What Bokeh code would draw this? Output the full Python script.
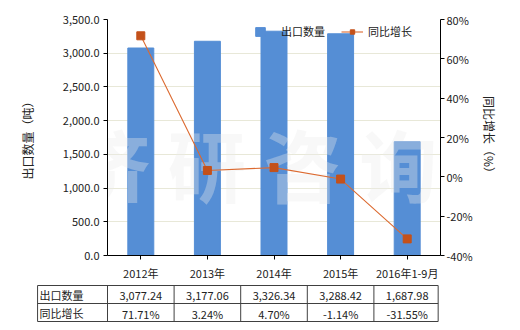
from bokeh.plotting import figure
from bokeh.models import (Range1d, LinearAxis, NumeralTickFormatter, PrintfTickFormatter,
                          Legend, LegendItem, ColumnDataSource, SingleIntervalTicker)
from bokeh.core.properties import value
from bokeh.embed import file_html
from bokeh.resources import INLINE

# ---- data ----
categories = ["2012年", "2013年", "2014年", "2015年", "2016年1-9月"]
export_qty = [3077.24, 3177.06, 3326.34, 3288.42, 1687.98]
yoy_growth = [71.71, 3.24, 4.70, -1.14, -31.55]
qty_labels = ["3,077.24", "3,177.06", "3,326.34", "3,288.42", "1,687.98"]
growth_labels = ["71.71%", "3.24%", "4.70%", "-1.14%", "-31.55%"]
row_names = ["出口数量", "同比增长"]
series_names = ["出口数量", "同比增长"]

FONT = "Noto Sans CJK SC"
W = 520
MAIN_H = 283
TABLE_H = 330 - MAIN_H
LEFT, RIGHT, TOP, BOTTOM = 107, 80, 19, 24

BAR_COLOR = "#558ed5"
LINE_COLOR = "#dc6a30"
MARK_COLOR = "#c4511a"
GRID_COLOR = "#e8e8d8"
TEXT_COLOR = "#222222"
TABLE_LINE = "#404040"

p = figure(width=W, height=MAIN_H, x_range=categories, y_range=Range1d(0, 3500),
           output_backend="svg", toolbar_location=None,
           min_border_left=LEFT, min_border_right=RIGHT,
           min_border_top=TOP, min_border_bottom=BOTTOM)
p.outline_line_color = None
p.background_fill_color = "white"
p.border_fill_color = "white"
p.extra_y_ranges = {"pct": Range1d(-40, 80)}

p.xgrid.grid_line_color = None
p.ygrid.grid_line_color = GRID_COLOR
p.ygrid.ticker = SingleIntervalTicker(interval=500)

# left axis
ya = p.yaxis[0]
ya.ticker = SingleIntervalTicker(interval=500)
ya.formatter = NumeralTickFormatter(format="0,0.0")
ya.axis_label = "出口数量（吨）"
ya.axis_label_text_font = FONT
ya.axis_label_text_font_style = "normal"
ya.axis_label_text_font_size = "12px"
ya.axis_label_text_color = TEXT_COLOR
ya.axis_label_standoff = 24
ya.major_label_text_font = FONT
ya.major_label_text_font_size = "11px"
ya.major_label_text_color = TEXT_COLOR
ya.major_label_standoff = 4
ya.minor_tick_line_color = None
ya.major_tick_out = 4
ya.major_tick_in = 0
ya.axis_line_color = "black"
ya.major_tick_line_color = "black"

# right axis
ra = LinearAxis(y_range_name="pct", ticker=SingleIntervalTicker(interval=20),
                formatter=PrintfTickFormatter(format="%d%%"))
ra.axis_label = "同比增长（%）"
ra.axis_label_text_font = FONT
ra.axis_label_text_font_style = "normal"
ra.axis_label_text_font_size = "12px"
ra.axis_label_text_color = TEXT_COLOR
ra.axis_label_standoff = 5
ra.major_label_text_font = FONT
ra.major_label_text_font_size = "11px"
ra.major_label_text_color = TEXT_COLOR
ra.major_label_standoff = 2
ra.minor_tick_line_color = None
ra.major_tick_out = 4
ra.major_tick_in = 0
ra.axis_line_color = "black"
p.add_layout(ra, "right")

# x axis
xa = p.xaxis[0]
xa.major_label_text_font = FONT
xa.major_label_text_font_size = "11px"
xa.major_label_text_color = TEXT_COLOR
xa.major_label_standoff = 5
xa.major_tick_out = 4
xa.major_tick_in = 0
xa.axis_line_color = "black"

src = ColumnDataSource(dict(cat=categories, qty=export_qty, g=yoy_growth))
bars = p.vbar(x="cat", top="qty", width=0.39, color=BAR_COLOR, source=src)

# watermark
p.text(x=[2], y=[1370], text=["济 研 咨 询"], text_font=value(FONT),
       text_font_size="78px", text_font_style="bold", text_color="#ececec",
       text_alpha=0.35, text_align="center", text_baseline="middle", x_offset=14)

ln = p.line(x="cat", y="g", y_range_name="pct", source=src, line_color=LINE_COLOR, line_width=1.1)
mk = p.scatter(x="cat", y="g", y_range_name="pct", source=src, marker="square",
               size=8, fill_color=MARK_COLOR, line_color=MARK_COLOR)

leg1 = Legend(items=[LegendItem(label=series_names[0], renderers=[bars])],
              location=(147, 216), orientation="horizontal",
              glyph_width=12, glyph_height=11, label_height=11, label_standoff=15,
              padding=0, margin=0, spacing=0, border_line_color=None,
              background_fill_alpha=0, label_text_font=FONT, label_text_font_size="11px",
              label_text_color=TEXT_COLOR)
leg2 = Legend(items=[LegendItem(label=series_names[1], renderers=[ln, mk])],
              location=(234, 216), orientation="horizontal",
              glyph_width=22, glyph_height=11, label_height=11, label_standoff=5,
              padding=0, margin=0, spacing=0, border_line_color=None,
              background_fill_alpha=0, label_text_font=FONT, label_text_font_size="11px",
              label_text_color=TEXT_COLOR)
p.add_layout(leg1, "center")
p.add_layout(leg2, "center")

# ---- data table: a separate root below the chart, x in category units ----
n = len(categories)
cw = (W - LEFT - RIGHT) / n          # px per category in the chart above
x0 = -0.5 - LEFT / cw
x1 = n - 0.5 + RIGHT / cw
label_w = 1.05                       # row-name column width, in category units
right_edge = n - 0.5 - 0.035         # table's right border, in category units
row_top, row_h = 2, 18               # pixels from the top of the table figure

t = figure(width=W, height=TABLE_H, x_range=Range1d(x0, x1), y_range=Range1d(TABLE_H, 0),
           x_axis_type=None, y_axis_type=None,
           output_backend="svg", toolbar_location=None,
           min_border=0, min_border_left=0, min_border_right=0, min_border_top=0, min_border_bottom=0)
t.grid.visible = False
t.outline_line_color = None
t.background_fill_color = "white"
t.border_fill_color = "white"

tl = -0.5 - label_w
rows_y = [row_top + i * row_h for i in range(len(row_names) + 1)]
row_mid = [rows_y[i] + row_h / 2 for i in range(len(row_names))]
t.segment(x0=[tl] * len(rows_y), x1=[right_edge] * len(rows_y), y0=rows_y, y1=rows_y,
          line_color=TABLE_LINE, line_width=1)
vx = [tl] + [i - 0.5 for i in range(n)] + [right_edge]
t.segment(x0=vx, x1=vx, y0=[rows_y[0]] * len(vx), y1=[rows_y[-1]] * len(vx),
          line_color=TABLE_LINE, line_width=1)

t.text(x=[tl + 0.03] * len(row_names), y=row_mid,
       text=row_names, text_font=value(FONT), text_font_size="11px", text_color=TEXT_COLOR,
       text_align="left", text_baseline="middle")
for r, labels in enumerate([qty_labels, growth_labels]):
    t.text(x=list(range(n)), y=[row_mid[r] + 1] * n, text=labels,
           text_font=value(FONT), text_font_size="11px", text_color=TEXT_COLOR,
           text_align="center", text_baseline="middle")

open("out.html", "w").write(file_html([p, t], INLINE))
